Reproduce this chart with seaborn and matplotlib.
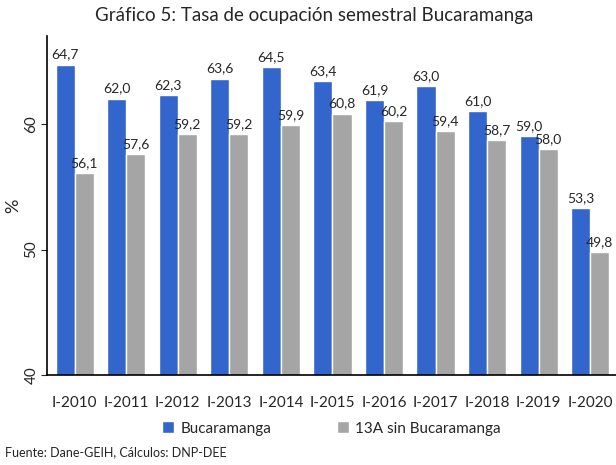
import pandas as pd
import seaborn as sns
import matplotlib.pyplot as plt

# datos
periodos = ['I-2010', 'I-2011', 'I-2012', 'I-2013', 'I-2014', 'I-2015',
            'I-2016', 'I-2017', 'I-2018', 'I-2019', 'I-2020']
bucaramanga = [64.7, 62.0, 62.3, 63.6, 64.5, 63.4, 61.9, 63.0, 61.0, 59.0, 53.3]
trece_a = [56.1, 57.6, 59.2, 59.2, 59.9, 60.8, 60.2, 59.4, 58.7, 58.0, 49.8]
series = ['Bucaramanga', '13A sin Bucaramanga']

df = pd.DataFrame({'Periodo': periodos, series[0]: bucaramanga, series[1]: trece_a})
df_melt = df.melt(id_vars='Periodo', value_vars=series, var_name='Serie', value_name='Tasa')

sns.set_style("white")
plt.rcParams['font.family'] = ['Lato', 'DejaVu Sans']

fig = plt.figure(figsize=(6.16, 4.65), dpi=100)
ax = fig.add_axes([0.076, 0.193, 0.924, 0.73])

sns.barplot(data=df_melt, x='Periodo', y='Tasa', hue='Serie',
            palette=['#3366CC', '#A5A5A5'], saturation=1, width=0.74, ax=ax)

for cont in ax.containers:
    ax.bar_label(cont, labels=[f'{v:.1f}'.replace('.', ',') for v in cont.datavalues],
                 padding=3, fontsize=10)

ax.set_ylim(40, 67)
ax.set_xlim(-0.54, 10.5)
ax.set_yticks([40, 50, 60])
ax.tick_params(axis='y', labelrotation=90, labelsize=11, length=4, left=True, pad=2)
ax.tick_params(axis='x', labelsize=11, length=0, pad=15)
for lab in ax.get_yticklabels():
    lab.set_va('center')
ax.set_xlabel('')
ax.set_ylabel('%', fontsize=13, labelpad=2)
for s in ['top', 'right']:
    ax.spines[s].set_visible(False)
for s in ['left', 'bottom']:
    ax.spines[s].set_color('black')
    ax.spines[s].set_linewidth(1.2)

ax.legend(loc='center', bbox_to_anchor=(0.5, -0.157), ncol=2, frameon=False,
          fontsize=11, handlelength=0.8, handleheight=0.8, handletextpad=0.4,
          columnspacing=4.3)

fig.suptitle('Gráfico 5: Tasa de ocupación semestral Bucaramanga', fontsize=13.5, x=0.51, y=0.985)
fig.text(0.008, 0.028, 'Fuente: Dane-GEIH, Cálculos: DNP-DEE', fontsize=9, va='center')

plt.savefig('out.png', dpi=100)
